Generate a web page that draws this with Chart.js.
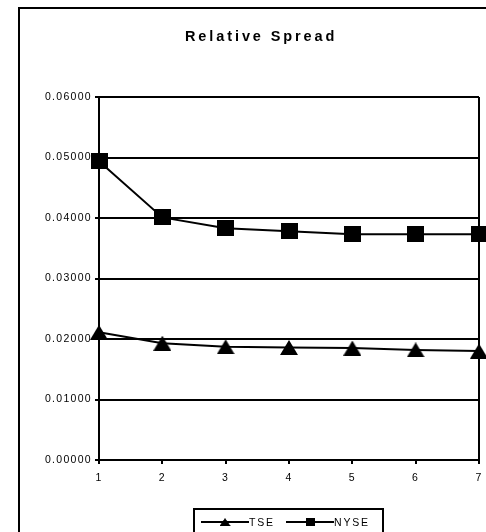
<!DOCTYPE html>
<html>
<head>
<meta charset="utf-8">
<title>Relative Spread</title>
<script src="https://cdn.jsdelivr.net/npm/chart.js@4.4.1/dist/chart.umd.min.js"></script>
<style>
  html, body { margin: 0; padding: 0; background: #fff; }
  #wrap { width: 486px; height: 532px; }
</style>
</head>
<body>
<div id="wrap"><canvas id="myChart" width="486" height="532"></canvas></div>
<script>
// periods on the x axis
const periods = ['1', '2', '3', '4', '5', '6', '7'];
// relative spread per period
const tseSpread = [0.0211, 0.0193, 0.0187, 0.0186, 0.0185, 0.0182, 0.0180];
const nyseSpread = [0.0494, 0.0401, 0.0383, 0.0378, 0.0373, 0.0373, 0.0373];
// y axis ticks
const yTicks = [0, 0.01, 0.02, 0.03, 0.04, 0.05, 0.06];

// marker pictures (excel style: triangle and square, centred on the point)
function triangleMarker(w, h) {
    const c = document.createElement('canvas');
    c.width = w; c.height = h;
    const g = c.getContext('2d');
    g.fillStyle = '#000';
    g.beginPath();
    g.moveTo(w / 2, 0);
    g.lineTo(w, h);
    g.lineTo(0, h);
    g.closePath();
    g.fill();
    return c;
}
function squareMarker(w, h) {
    const c = document.createElement('canvas');
    c.width = w; c.height = h;
    const g = c.getContext('2d');
    g.fillStyle = '#000';
    g.fillRect(0, 0, w, h);
    return c;
}
const triBig = triangleMarker(18, 15);
const sqBig = squareMarker(17, 16);

Chart.defaults.font.family = "'Liberation Sans', Arial, sans-serif";
Chart.defaults.color = '#000';

// frame, title and legend box
const decorations = {
    id: 'decorations',
    beforeDraw(chart) {
        chart.ctx.letterSpacing = '1.3px';
    },
    afterDraw(chart) {
        const ctx = chart.ctx;
        ctx.save();
        ctx.strokeStyle = '#000';
        ctx.lineWidth = 2;
        // outer chart border
        ctx.beginPath();
        ctx.moveTo(19, 540);
        ctx.lineTo(19, 8);
        ctx.lineTo(490, 8);
        ctx.stroke();
        // right edge of the plot
        const a = chart.chartArea;
        ctx.beginPath();
        ctx.moveTo(a.right, a.top);
        ctx.lineTo(a.right, a.bottom);
        ctx.stroke();

        // title
        ctx.fillStyle = '#000';
        ctx.font = "bold 14.5px 'Liberation Sans', Arial";
        ctx.letterSpacing = '2.9px';
        ctx.textAlign = 'left';
        ctx.textBaseline = 'middle';
        ctx.fillText('Relative Spread', 185, 37);

        // legend
        ctx.strokeRect(194, 509, 189, 40);
        ctx.font = "10.5px 'Liberation Sans', Arial";
        ctx.letterSpacing = '1.8px';
        const ly = 522;
        const items = [
            { x0: 201, x1: 249, img: triBig, w: 11, h: 8, label: chart.data.datasets[0].label },
            { x0: 286, x1: 334, img: sqBig, w: 9, h: 8, label: chart.data.datasets[1].label }
        ];
        items.forEach(it => {
            ctx.beginPath();
            ctx.moveTo(it.x0, ly);
            ctx.lineTo(it.x1, ly);
            ctx.stroke();
            const cx = (it.x0 + it.x1) / 2;
            ctx.drawImage(it.img, cx - it.w / 2, ly - it.h / 2, it.w, it.h);
            ctx.fillText(it.label, it.x1, ly + 1);
        });
        ctx.restore();
        ctx.letterSpacing = '0px';
    }
};

const ctx = document.getElementById('myChart');

new Chart(ctx, {
    type: 'line',
    data: {
        labels: periods,
        datasets: [{
            label: 'TSE',
            data: tseSpread,
            borderColor: '#000',
            backgroundColor: '#000',
            borderWidth: 2,
            pointStyle: triBig,
            pointRadius: 1,
            pointBorderWidth: 0,
            pointHoverRadius: 0,
            tension: 0,
            clip: false
        },
        {
            label: 'NYSE',
            data: nyseSpread,
            borderColor: '#000',
            backgroundColor: '#000',
            borderWidth: 2,
            pointStyle: sqBig,
            pointRadius: 1,
            pointBorderWidth: 0,
            pointHoverRadius: 0,
            tension: 0,
            clip: false
        }]
    },
    options: {
        responsive: false,
        animation: false,
        events: [],
        layout: {
            padding: { top: 97, right: 7, bottom: 0, left: 0 }
        },
        plugins: {
            legend: { display: false },
            title: { display: false },
            tooltip: { enabled: false }
        },
        scales: {
            x: {
                offset: false,
                afterFit(scale) {
                    scale.height = 72;
                    scale.paddingLeft = 0;
                    scale.paddingRight = 0;
                },
                grid: {
                    color: c => (c.index === 0 || c.index === periods.length - 1) ? '#000' : 'rgba(0,0,0,0)',
                    tickColor: '#000',
                    lineWidth: 2,
                    tickLength: 4,
                    drawOnChartArea: false
                },
                border: { display: true, color: '#000', width: 2 },
                ticks: { font: { size: 10.5 }, color: '#000', padding: 8, maxRotation: 0 }
            },
            y: {
                min: 0,
                max: 0.06,
                afterFit(scale) { scale.width = 99; },
                afterBuildTicks(scale) { scale.ticks = yTicks.map(v => ({ value: v })); },
                grid: {
                    color: '#000',
                    lineWidth: 2,
                    tickLength: 4
                },
                border: { display: true, color: '#000', width: 2 },
                ticks: {
                    font: { size: 10.5 },
                    color: '#000',
                    padding: 3,
                    callback: v => Number(v).toFixed(5)
                }
            }
        }
    },
    plugins: [decorations]
});
</script>
</body>
</html>
